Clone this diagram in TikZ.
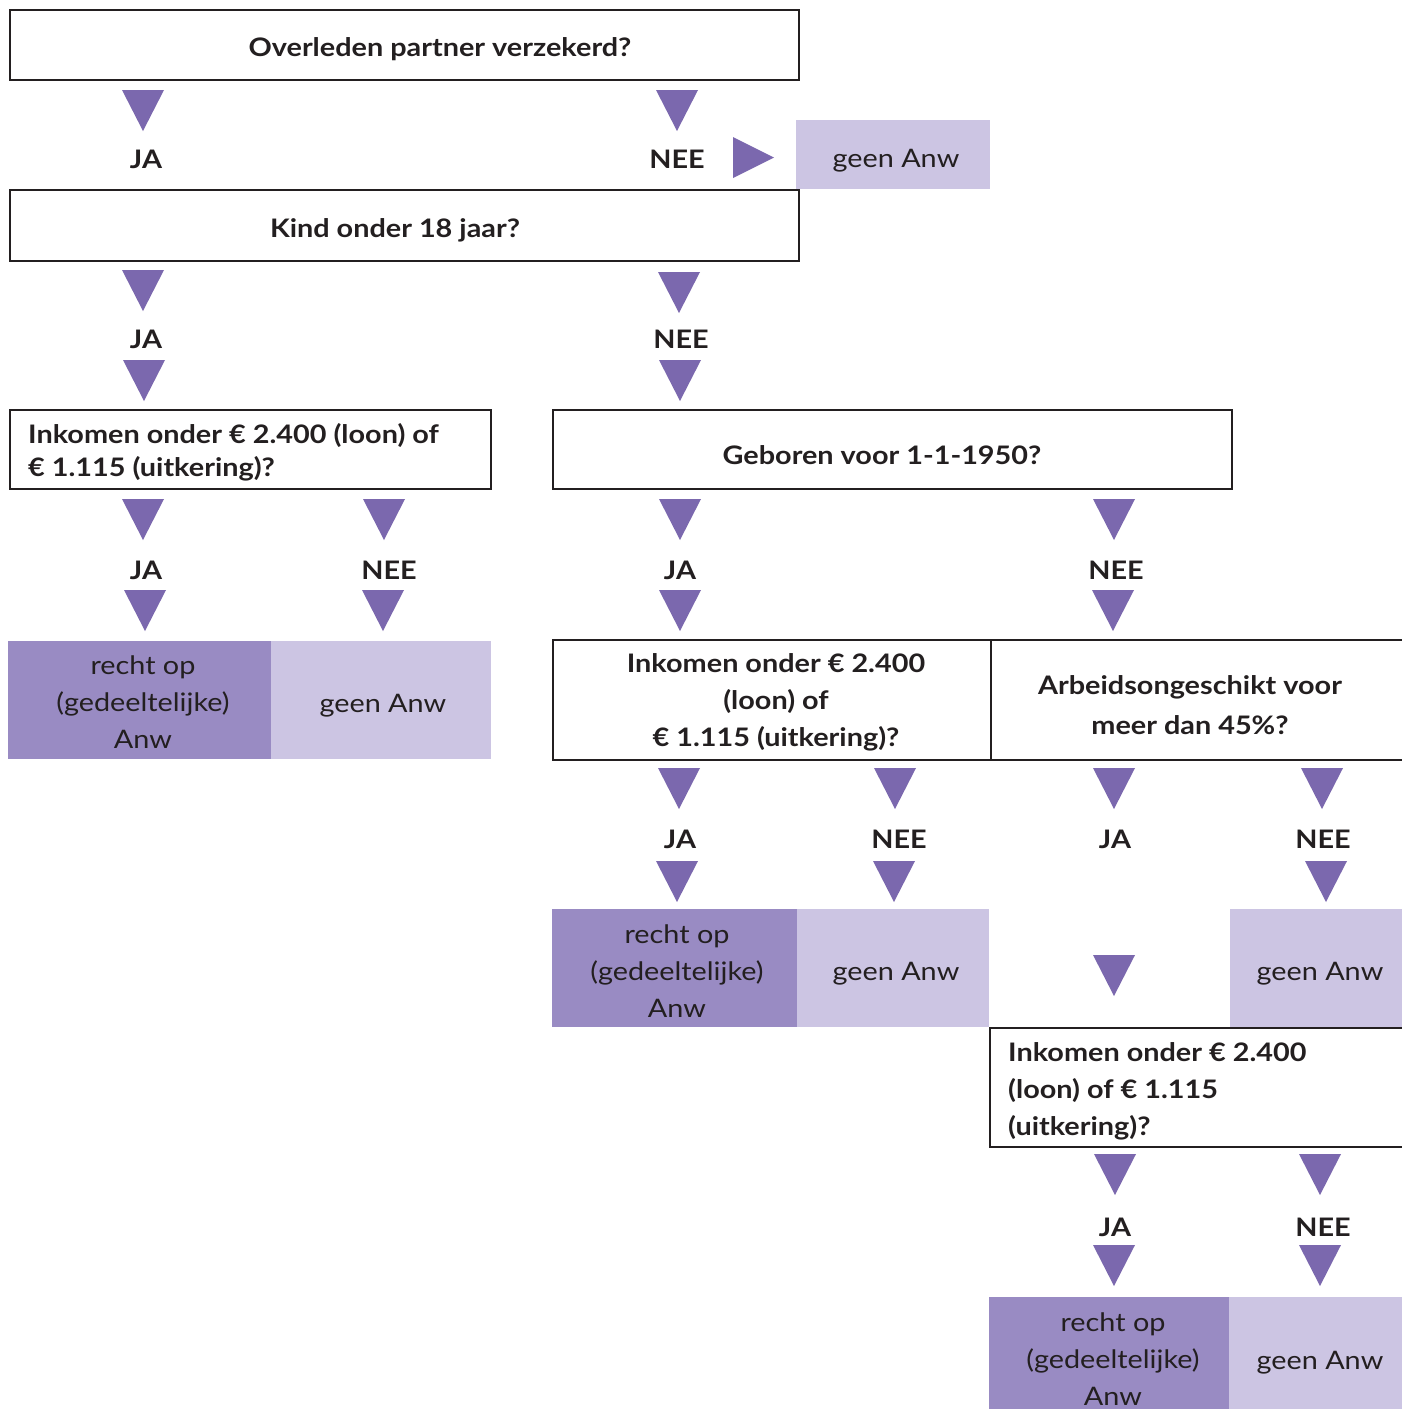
\documentclass[tikz,border=0pt]{standalone}
\usepackage{fontspec}
\setmainfont{Lato}[FakeStretch=1.13]
\definecolor{triC}{HTML}{7B68AE}
\definecolor{darkC}{HTML}{998BC3}
\definecolor{lightC}{HTML}{CCC5E3}
\definecolor{lineC}{HTML}{231F20}
\newcommand\tridown[2]{\fill[triC] (#1-21,#2) -- (#1+21,#2) -- (#1,#2+41) -- cycle;}
\begin{document}
\begin{tikzpicture}[x=1pt,y=-1pt,
  qbox/.style={draw=lineC, line width=2pt, inner sep=0pt},
  obox/.style={inner sep=0pt},
  dbox/.style={fill=darkC, inner sep=0pt},
  lbox/.style={fill=lightC, inner sep=0pt},
  qtext/.style={inner sep=0pt, yshift=-2.5pt, text=lineC, font=\fontsize{25.5}{33}\selectfont\bfseries},
  atext/.style={inner sep=0pt, yshift=-2.5pt, text=lineC, font=\fontsize{25.5}{37}\selectfont, align=center},
  lab/.style={inner sep=0pt, yshift=-1pt, text=lineC, font=\fontsize{25.5}{30}\selectfont\bfseries}]
\useasboundingbox (0,0) rectangle (1402,1409);
\fill[white] (0,0) rectangle (1402,1409);
% boxes
\node[qbox, minimum width=789pt, minimum height=70pt] (q1) at (404.5,45) {};
\node[lbox, minimum width=194pt, minimum height=69pt] (g0) at (893,154.5) {};
\node[qbox, minimum width=789pt, minimum height=71pt] (q2) at (404.5,225.5) {};
\node[qbox, minimum width=481pt, minimum height=79pt] (q3) at (250.5,449.5) {};
\node[qbox, minimum width=679pt, minimum height=79pt] (q4) at (892.5,449.5) {};
\node[dbox, minimum width=263pt, minimum height=118pt] (r1) at (139.5,700) {};
\node[lbox, minimum width=220pt, minimum height=118pt] (r2) at (381,700) {};
\node[qbox, minimum width=438pt, minimum height=120pt] (q5) at (772,700) {};
\node[obox, minimum width=411pt, minimum height=120pt] (q6) at (1196.5,700) {};
\draw[lineC, line width=2pt] (q6.north west) -- (q6.north east) (q6.south west) -- (q6.south east);
\node[dbox, minimum width=245pt, minimum height=118pt] (r3) at (674.5,968) {};
\node[lbox, minimum width=192pt, minimum height=118pt] (r4) at (893,968) {};
\node[lbox, minimum width=172pt, minimum height=118pt] (r5) at (1316,968) {};
\node[obox, minimum width=412pt, minimum height=119pt] (q7) at (1196,1087.5) {};
\draw[lineC, line width=2pt] (q7.north east) -- (q7.north west) -- (q7.south west) -- (q7.south east);
\node[dbox, minimum width=240pt, minimum height=112pt] (r6) at (1109,1353) {};
\node[lbox, minimum width=173pt, minimum height=112pt] (r7) at (1315.5,1353) {};
% texts
\node[qtext] (t1) at (440,47) {Overleden partner verzekerd?};
\node[qtext] (t2) at (395,228) {Kind onder 18 jaar?};
\node[qtext, anchor=west, align=left] (t3) at (28,450) {Inkomen onder € 2.400 (loon) of\\€ 1.115 (uitkering)?};
\node[qtext] (t4) at (882,453) {Geboren voor 1-1-1950?};
\node[qtext, align=center, font=\fontsize{25.5}{37}\selectfont\bfseries] (t5) at (776,700) {Inkomen onder € 2.400\\(loon) of\\€ 1.115 (uitkering)?};
\node[qtext, align=center, font=\fontsize{25.5}{40}\selectfont\bfseries] (t6) at (1190,703) {Arbeidsongeschikt voor\\meer dan 45\%?};
\node[qtext, anchor=west, align=left, font=\fontsize{25.5}{37}\selectfont\bfseries] (t7) at (1008,1089) {Inkomen onder € 2.400\\(loon) of € 1.115\\(uitkering)?};
\node[atext] (a0) at (896,158) {geen Anw};
\node[atext] (a1) at (143,700) {recht op\\(gedeeltelijke)\\Anw};
\node[atext] (a2) at (383,703) {geen Anw};
\node[atext] (a3) at (677,969) {recht op\\(gedeeltelijke)\\Anw};
\node[atext] (a4) at (896,971) {geen Anw};
\node[atext] (a5) at (1320,971) {geen Anw};
\node[atext] (a6) at (1113,1357) {recht op\\(gedeeltelijke)\\Anw};
\node[atext] (a7) at (1320,1360) {geen Anw};
% labels
\node[lab] (l1) at (146,158) {JA};
\node[lab] (l2) at (677,158) {NEE};
\node[lab] (l3) at (146,338) {JA};
\node[lab] (l4) at (681,338) {NEE};
\node[lab] (l5) at (146,569) {JA};
\node[lab] (l6) at (389,569) {NEE};
\node[lab] (l7) at (680,569) {JA};
\node[lab] (l8) at (1116,569) {NEE};
\node[lab] (l9) at (680,838) {JA};
\node[lab] (l10) at (899,838) {NEE};
\node[lab] (l11) at (1115,838) {JA};
\node[lab] (l12) at (1323,838) {NEE};
\node[lab] (l13) at (1115,1226) {JA};
\node[lab] (l14) at (1323,1226) {NEE};
% triangles
\tridown{143}{90}
\tridown{677}{90}
\fill[triC] (733,137) -- (774,157.5) -- (733,178) -- cycle;
\tridown{143}{270}
\tridown{679}{272}
\tridown{144}{360}
\tridown{680}{360}
\tridown{143}{499}
\tridown{384}{499}
\tridown{680}{499}
\tridown{1114}{499}
\tridown{145}{590}
\tridown{383}{590}
\tridown{680}{590}
\tridown{1113}{590}
\tridown{679}{768}
\tridown{895}{768}
\tridown{1114}{768}
\tridown{1322}{768}
\tridown{677}{861}
\tridown{894}{861}
\tridown{1326}{861}
\tridown{1114}{955}
\tridown{1115}{1154}
\tridown{1320}{1154}
\tridown{1114}{1245}
\tridown{1320}{1245}
\end{tikzpicture}
\end{document}
